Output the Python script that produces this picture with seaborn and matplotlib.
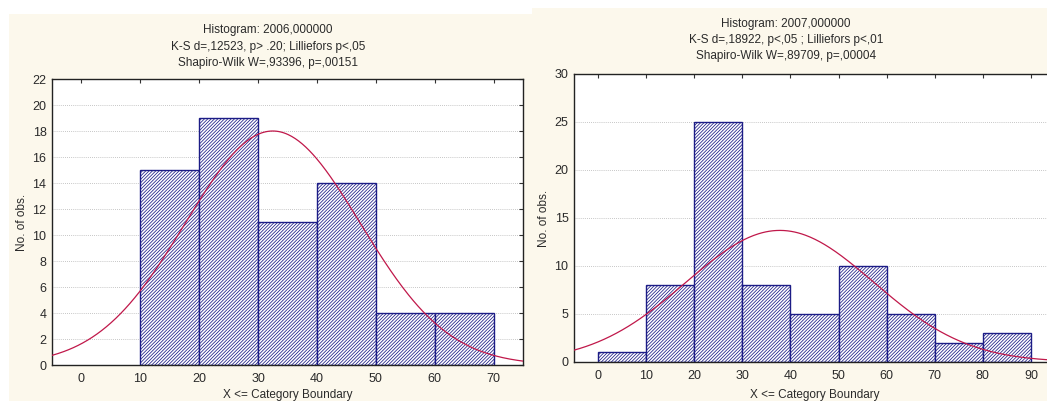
import numpy as np
import matplotlib
matplotlib.use("Agg")
import matplotlib.pyplot as plt
from matplotlib.patches import Rectangle
import seaborn as sns

# --- data -------------------------------------------------------------
edges_2006 = [10, 20, 30, 40, 50, 60, 70]
counts_2006 = [15, 19, 11, 14, 4, 4]
mean_2006, sd_2006 = 32.5, 14.85

edges_2007 = [0, 10, 20, 30, 40, 50, 60, 70, 80, 90]
counts_2007 = [1, 8, 25, 8, 5, 10, 5, 2, 3]
mean_2007, sd_2007 = 37.8, 19.5

titles_2006 = ["Histogram: 2006,000000",
               "K-S d=,12523, p> .20; Lilliefors p<,05",
               "Shapiro-Wilk W=,93396, p=,00151"]
titles_2007 = ["Histogram: 2007,000000",
               "K-S d=,18922, p<,05 ; Lilliefors p<,01",
               "Shapiro-Wilk W=,89709, p=,00004"]

xticks_2006 = list(range(0, 71, 10))
yticks_2006 = list(range(0, 23, 2))
xticks_2007 = list(range(0, 91, 10))
yticks_2007 = list(range(0, 31, 5))

# --- style ------------------------------------------------------------
sns.set_style("white")
plt.rcParams["font.family"] = ["Liberation Sans", "DejaVu Sans"]
plt.rcParams["hatch.linewidth"] = 0.55
TEXT = "#2a2a2a"
NAVY = "#1c1c86"
CURVE = "#c0184a"
CREAM = "#fcf8ec"

W, H = 1047, 401
fig = plt.figure(figsize=(W / 100, H / 100), dpi=100, facecolor="white")

# panel backgrounds (behind the axes)
fig.patches.append(Rectangle((9 / W, 0), (532 - 9) / W, 1 - 14 / H,
                             transform=fig.transFigure, facecolor=CREAM,
                             edgecolor="none", zorder=-5))
fig.patches.append(Rectangle((532 / W, 0), 1 - 532 / W, 1 - 8 / H,
                             transform=fig.transFigure, facecolor=CREAM,
                             edgecolor="none", zorder=-5))


def panel(rect_px, edges, counts, mu, sd, xlim, ylim, xticks, yticks,
          title_lines, title_x, title_ys, ylab_x):
    x0, y_top, x1, y_bot = rect_px
    ax = fig.add_axes([x0 / W, 1 - y_bot / H, (x1 - x0) / W, (y_bot - y_top) / H])
    ax.set_facecolor("white")

    mids = [(a + b) / 2 for a, b in zip(edges[:-1], edges[1:])]
    sns.histplot(x=mids, weights=counts, bins=edges, ax=ax, stat="count",
                 fill=True, alpha=1, zorder=2)
    for p in ax.patches:
        p.set_facecolor("white")
        p.set_edgecolor(NAVY)
        p.set_hatch("//////////")
        p.set_linewidth(1.0)

    # fitted normal curve scaled to counts per bin
    n = sum(counts)
    bw = edges[1] - edges[0]
    xs = np.linspace(xlim[0], xlim[1], 400)
    ys = n * bw * np.exp(-0.5 * ((xs - mu) / sd) ** 2) / (sd * np.sqrt(2 * np.pi))
    sns.lineplot(x=xs, y=ys, ax=ax, color=CURVE, linewidth=0.9, zorder=3)

    ax.set_xlim(*xlim)
    ax.set_ylim(*ylim)
    ax.set_xticks(xticks)
    ax.set_yticks(yticks)
    ax.tick_params(direction="in", length=3, width=0.8, color="#333333",
                   top=True, right=True, labelsize=9, labelcolor=TEXT)
    ax.tick_params(axis="x", pad=6)
    ax.tick_params(axis="y", pad=4)
    ax.grid(axis="y", linestyle=(0, (1, 1.5)), color="#b4b4b4", linewidth=0.6, zorder=1)
    ax.grid(axis="x", visible=False)
    ax.set_axisbelow(True)
    for s in ax.spines.values():
        s.set_visible(True)
        s.set_color("#222222")
        s.set_linewidth(1.0)

    ax.set_xlabel("X <= Category Boundary", fontsize=8.5, color=TEXT)
    ax.xaxis.set_label_coords(0.5, -(389 - y_bot) / (y_bot - y_top))
    ax.set_ylabel("No. of obs.", fontsize=8.5, color=TEXT)
    ax.yaxis.set_label_coords((ylab_x - x0) / (x1 - x0), 0.5)

    for line, ty in zip(title_lines, title_ys):
        fig.text(title_x / W, 1 - ty / H, line, ha="center", va="center",
                 fontsize=8.5, color=TEXT)
    return ax


panel((52, 79, 523, 365), edges_2006, counts_2006, mean_2006, sd_2006,
      (-5, 75), (0, 22), xticks_2006, yticks_2006,
      titles_2006, 268, [30, 47, 63], 28)
panel((574, 74, 1055, 362), edges_2007, counts_2007, mean_2007, sd_2007,
      (-5, 95), (0, 30), xticks_2007, yticks_2007,
      titles_2007, 786, [24, 40, 56], 550)

fig.savefig("out.png", dpi=100)
